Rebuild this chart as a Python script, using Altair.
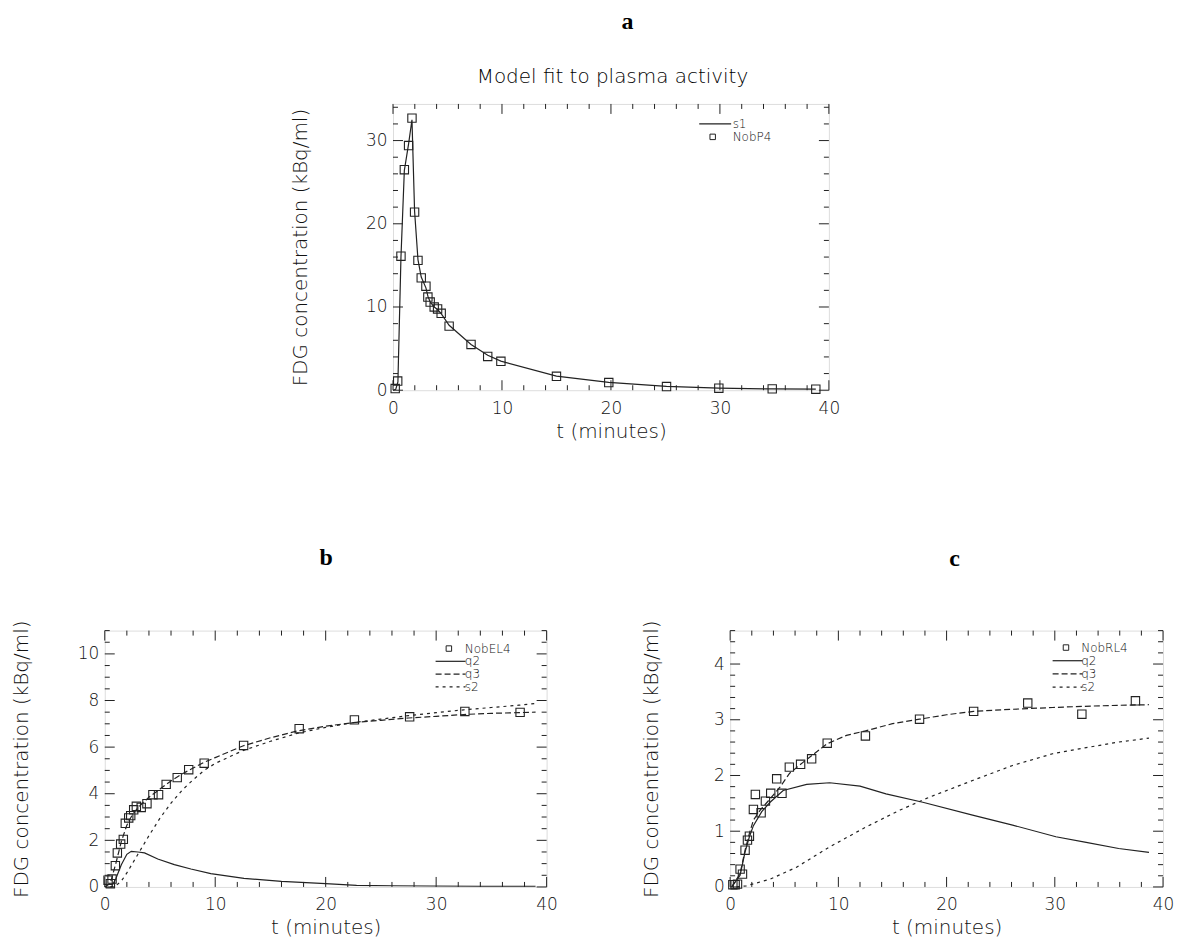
import altair as alt
import pandas as pd

INK = "#222222"
TXT = "#111111"
FONT = "DejaVu Sans"
SERIF = "Liberation Serif"

X_MAJOR = [0, 10, 20, 30, 40]
X_MINOR = [v for v in range(0, 41, 2) if v % 10]
XTITLE = "t (minutes)"
YTITLE = "FDG concentration (kBq/ml)"

# ---------------- panel a ----------------
a_t = [0.2, 0.43, 0.73, 1.04, 1.43, 1.74, 1.98, 2.29, 2.59, 3.02, 3.2, 3.41, 3.78,
       4.09, 4.42, 5.15, 7.16, 8.69, 9.9, 15.0, 19.8, 25.1, 29.9, 34.8, 38.8]
a_c = [0.2, 1.1, 16.1, 26.5, 29.4, 32.7, 21.4, 15.6, 13.5, 12.5, 11.2, 10.6, 10.0,
       9.76, 9.24, 7.7, 5.5, 4.06, 3.47, 1.67, 0.92, 0.44, 0.24, 0.16, 0.12]
s1_t = [0.0, 0.25, 0.45, 0.73, 1.04, 1.43, 1.74, 1.98, 2.29, 2.59, 3.02, 3.2, 3.41,
        3.78, 4.09, 4.42, 5.15, 7.16, 8.69, 9.9, 15.0, 19.8, 25.1, 29.9, 34.8, 38.8]
s1_c = [0.0, 0.1, 1.0, 16.0, 26.4, 29.6, 32.5, 21.5, 15.7, 13.6, 12.3, 11.3, 10.6,
        10.0, 9.7, 9.2, 7.8, 5.5, 4.2, 3.5, 1.7, 0.95, 0.45, 0.25, 0.15, 0.12]

# ---------------- panel b ----------------
b_t = [0.3, 0.51, 0.66, 0.96, 1.14, 1.44, 1.68, 1.86, 2.17, 2.35, 2.62, 2.86, 3.3,
       3.82, 4.36, 4.87, 5.56, 6.56, 7.6, 9.0, 12.57, 17.6, 22.6, 27.6, 32.6, 37.6]
b_c = [0.29, 0.14, 0.34, 0.91, 1.46, 1.84, 2.04, 2.73, 2.96, 3.06, 3.31, 3.46, 3.41,
       3.57, 3.96, 3.96, 4.4, 4.69, 5.03, 5.31, 6.07, 6.79, 7.17, 7.3, 7.53, 7.49]
b_q2_t = [0.6, 1.0, 1.5, 2.0, 2.4, 3.0, 3.6, 4.8, 6.3, 7.8, 9.6, 12.6, 16, 20, 22.8,
          26, 29.5, 34, 39]
b_q2_c = [0.0, 0.35, 0.95, 1.4, 1.53, 1.5, 1.46, 1.2, 0.96, 0.77, 0.57, 0.37, 0.24,
          0.14, 0.07, 0.05, 0.04, 0.03, 0.03]
b_q3_t = [0.0, 0.5, 1.0, 1.5, 2.0, 2.5, 3.0, 4.0, 5.0, 6.0, 7.0, 8.0, 9.0, 10, 12.5,
          15, 17.5, 20, 22.5, 25, 27.5, 30, 32.5, 35, 37.5, 39]
b_q3_c = [0.0, 0.15, 1.0, 1.95, 2.65, 3.1, 3.4, 3.85, 4.2, 4.55, 4.85, 5.1, 5.35, 5.55,
          6.05, 6.4, 6.7, 6.9, 7.05, 7.15, 7.25, 7.32, 7.4, 7.45, 7.48, 7.5]
b_s2_t = [0.5, 1.0, 1.5, 2.0, 3.0, 4.0, 5.0, 6.0, 7.0, 8.0, 9.0, 10, 12.5, 15, 17.5,
          20, 22.5, 25, 27.5, 30, 32.5, 35, 37.5, 39]
b_s2_c = [0.0, 0.05, 0.25, 0.6, 1.4, 2.2, 2.95, 3.6, 4.15, 4.6, 5.0, 5.3, 5.85, 6.25,
          6.6, 6.85, 7.05, 7.2, 7.35, 7.48, 7.6, 7.7, 7.8, 7.87]

# ---------------- panel c ----------------
c_t = [0.25, 0.46, 0.68, 0.92, 1.14, 1.38, 1.6, 1.78, 2.15, 2.33, 2.86, 3.26, 3.75,
       4.3, 4.79, 5.47, 6.51, 7.53, 8.97, 12.5, 17.5, 22.5, 27.5, 32.5, 37.45]
c_c = [0.04, 0.04, 0.05, 0.32, 0.23, 0.66, 0.84, 0.91, 1.39, 1.66, 1.33, 1.54, 1.68,
       1.94, 1.68, 2.15, 2.2, 2.3, 2.58, 2.71, 3.01, 3.15, 3.3, 3.1, 3.34]
c_q2_t = [0.15, 0.92, 1.38, 1.78, 2.15, 2.92, 3.69, 4.9, 7.07, 9.2, 12, 14.4, 17.8,
          22.4, 26.1, 30.1, 32.9, 35.9, 38.7]
c_q2_c = [0.0, 0.21, 0.63, 0.9, 1.1, 1.35, 1.52, 1.73, 1.84, 1.87, 1.81, 1.67, 1.52,
          1.29, 1.11, 0.9, 0.8, 0.69, 0.62]
c_q3_t = [0.15, 0.92, 1.38, 1.78, 2.15, 2.83, 3.69, 4.6, 5.5, 6.76, 8.97, 10.75, 12.5,
          15, 17.5, 20, 22.5, 25.2, 27.5, 29.8, 32.5, 35.9, 38.7]
c_q3_c = [0.0, 0.24, 0.66, 0.96, 1.2, 1.39, 1.58, 1.79, 2.04, 2.24, 2.57, 2.72, 2.8,
          2.93, 3.01, 3.09, 3.15, 3.18, 3.2, 3.22, 3.24, 3.26, 3.27]
c_s2_t = [0.6, 1.5, 3.7, 6.1, 9.2, 12.6, 15.7, 18.4, 22.4, 26.1, 29.8, 32.9, 35.9, 38.7]
c_s2_c = [0.0, 0.02, 0.14, 0.35, 0.72, 1.08, 1.38, 1.61, 1.91, 2.18, 2.39, 2.5, 2.6, 2.67]

SOLID = "solid"
LONG = [6, 3]
SHORT = [3, 4]
WEIGHT = 200


def make_panel(W, H, ymax, yvals, yminor, ytx, lines, pts, leg, texts, lab_size=17):
    xs = alt.Scale(domain=[0, 40], nice=False, zero=False)
    ys = alt.Scale(domain=[0, ymax], nice=False, zero=False)
    xax = alt.Axis(values=X_MAJOR, title=XTITLE, ticks=False, domain=False, grid=False,
                   labelFont=FONT, labelFontSize=lab_size, labelColor=TXT, labelPadding=10,
                   labelFontWeight=WEIGHT,
                   labelFlush=False, labelOverlap=False, titleFont=FONT, titleFontSize=20,
                   titleFontWeight=WEIGHT, titleColor=TXT, titleY=41,
                   titleBaseline="middle")
    yax = alt.Axis(values=yvals, title=YTITLE, ticks=False, domain=False, grid=False,
                   labelFont=FONT, labelFontSize=lab_size, labelColor=TXT, labelPadding=6,
                   labelFontWeight=WEIGHT,
                   labelFlush=False, labelOverlap=False, titleFont=FONT, titleFontSize=20,
                   titleFontWeight=WEIGHT, titleColor=TXT, titleX=ytx, titleY=H / 2,
                   titleAngle=270, titleAlign="center", titleBaseline="middle")

    def X():
        return alt.X("t:Q", scale=xs, axis=xax)

    def Y():
        return alt.Y("c:Q", scale=ys, axis=yax)

    def line_kw(kind):
        kw = dict(color=INK, strokeWidth=1.2)
        if isinstance(kind, list):
            kw["strokeDash"] = kind
        return kw

    layers = []
    for tt, cc, dash in lines:
        df = pd.DataFrame({"t": tt, "c": cc})
        layers.append(alt.Chart(df).mark_line(**line_kw(dash)).encode(x=X(), y=Y()))
    pt, pc = pts
    layers.append(alt.Chart(pd.DataFrame({"t": pt, "c": pc})).mark_point(
        shape="square", filled=False, size=70, color=INK, strokeWidth=1.1, opacity=1
    ).encode(x=X(), y=Y()))

    # inward ticks on all four sides
    for vals, L in ((X_MAJOR, 10), (X_MINOR, 5)):
        base = alt.Chart(pd.DataFrame({"t": vals})).mark_rule(color=INK, strokeWidth=1)
        layers.append(base.encode(x=X(), y=alt.value(H), y2=alt.value(H - L)))
        layers.append(base.encode(x=X(), y=alt.value(0), y2=alt.value(L)))
    for vals, L in ((yvals, 10), (yminor, 5)):
        base = alt.Chart(pd.DataFrame({"c": vals})).mark_rule(color=INK, strokeWidth=1)
        layers.append(base.encode(y=Y(), x=alt.value(0), x2=alt.value(L)))
        layers.append(base.encode(y=Y(), x=alt.value(W), x2=alt.value(W - L)))

    # legend drawn IDL-style inside the plot
    labels, kinds, xl0, xl1, xsym, xtxt, y0, dy = leg
    for i, (lab, kind) in enumerate(zip(labels, kinds)):
        yy = y0 + i * dy
        row = pd.DataFrame({"label": [lab]})
        if kind == "square":
            layers.append(alt.Chart(row).mark_point(
                shape="square", filled=False, size=30, color=INK, strokeWidth=1, opacity=1
            ).encode(x=alt.value(xsym), y=alt.value(yy)))
        else:
            layers.append(alt.Chart(row).mark_rule(**line_kw(kind)).encode(
                x=alt.value(xl0), x2=alt.value(xl1), y=alt.value(yy)))
        layers.append(alt.Chart(row).mark_text(
            align="left", baseline="middle", font=FONT, fontSize=12, fontWeight=WEIGHT,
            color=TXT
        ).encode(x=alt.value(xtxt), y=alt.value(yy), text="label:N"))

    for txt, tx, ty, font, size, weight in texts:
        layers.append(alt.Chart(pd.DataFrame({"label": [txt]})).mark_text(
            align="center", baseline="middle", font=font, fontSize=size,
            fontWeight=weight, color="#000000"
        ).encode(x=alt.value(tx), y=alt.value(ty), text="label:N"))

    return alt.layer(*layers).properties(width=W, height=H)


panel_a = make_panel(
    437, 287, 34.4, [0, 10, 20, 30], [v for v in range(0, 35, 2) if v % 10], -93,
    [(s1_t, s1_c, SOLID)], (a_t, a_c),
    (["s1", "NobP4"], [SOLID, "square"], 307, 339, 320.5, 340.5, 20.0, 13.0),
    [("a", 235, -82, SERIF, 24, "bold"),
     ("Model fit to plasma activity", 220, -27, FONT, 20, WEIGHT)],
)

panel_b = make_panel(
    443, 257, 11.0, [0, 2, 4, 6, 8, 10], [v / 2 for v in range(0, 23) if v % 4], -83,
    [(b_q2_t, b_q2_c, SOLID), (b_q3_t, b_q3_c, LONG), (b_s2_t, b_s2_c, SHORT)],
    (b_t, b_c),
    (["NobEL4", "q2", "q3", "s2"], ["square", SOLID, LONG, SHORT],
     331.7, 361.7, 345, 361, 18, 12.8),
    [("b", 222, -73, SERIF, 24, "bold")],
)

panel_c = make_panel(
    434, 257, 4.6, [0, 1, 2, 3, 4], [v / 5 for v in range(0, 24) if v % 5], -79,
    [(c_q2_t, c_q2_c, SOLID), (c_q3_t, c_q3_c, LONG), (c_s2_t, c_s2_c, SHORT)],
    (c_t, c_c),
    (["NobRL4", "q2", "q3", "s2"], ["square", SOLID, LONG, SHORT],
     323.3, 353.3, 336.7, 352, 17, 13.2),
    [("c", 225, -72, SERIF, 24, "bold")],
)

spacer = alt.Chart(pd.DataFrame({"s": [0]})).mark_point(opacity=0).properties(
    width=10, height=10, view=alt.ViewBackground(strokeOpacity=0)
)

row1 = alt.hconcat(spacer, panel_a, spacing=279, bounds="flush")
row2 = alt.hconcat(panel_b, panel_c, spacing=184, bounds="flush")

# nested rows count as zero-height under flush bounds, so spacing spans panel a's height
chart = alt.vconcat(row1, row2, spacing=528, bounds="flush").properties(
    padding={"left": 3, "top": 0, "right": 0, "bottom": 0}
).configure_view(stroke=INK, strokeWidth=1.2).configure(font=FONT)

chart.save("out.html", embed_options={"renderer": "svg", "actions": False})
